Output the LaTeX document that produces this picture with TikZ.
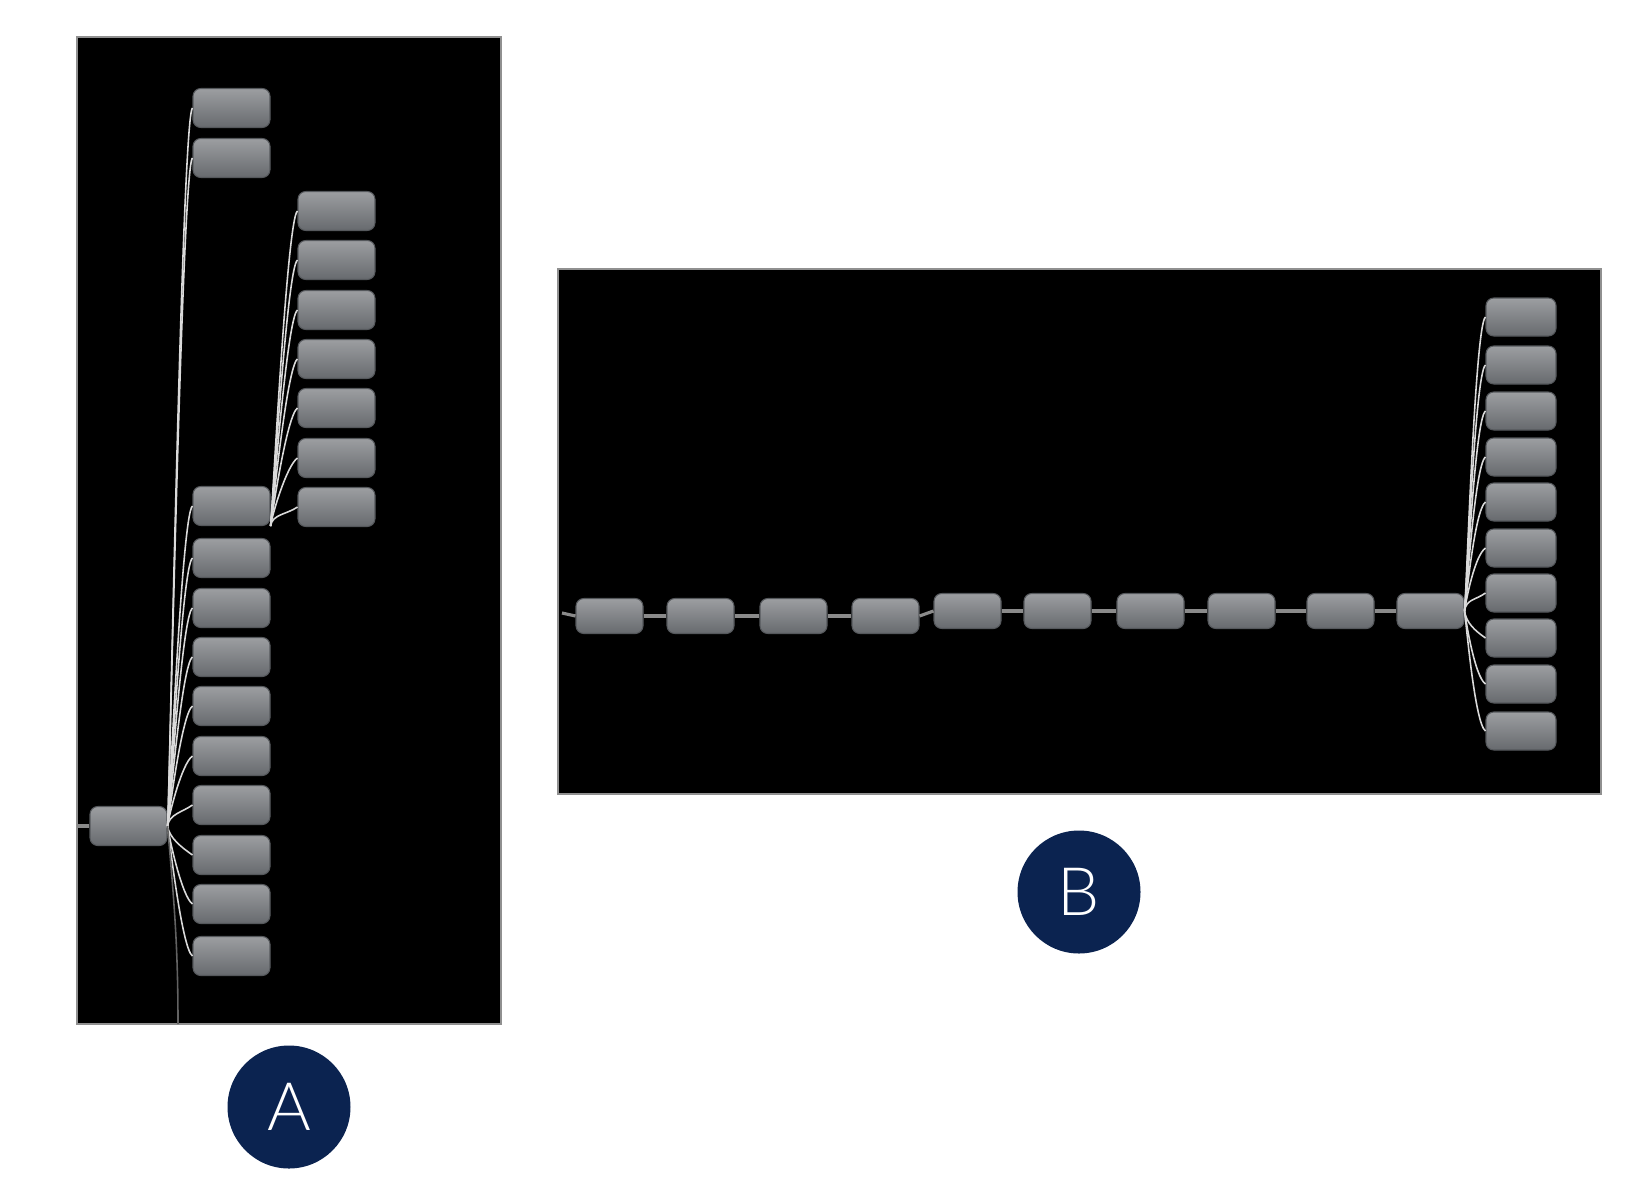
\documentclass[tikz,border=0pt]{standalone}
\usepackage{fontspec}
\setsansfont{Lato}
\newfontfamily\badgefont{Lato Light}
\definecolor{navy}{HTML}{0B2350}
\definecolor{nodetop}{HTML}{9C9EA1}
\definecolor{nodebot}{HTML}{676A6E}
\definecolor{nodeedge}{HTML}{55585C}
\definecolor{fanline}{HTML}{DADADA}
\definecolor{linkgray}{HTML}{8A8A8A}
\definecolor{frame}{HTML}{909090}

\begin{document}
\begin{tikzpicture}[font=\sffamily,
  box/.style={rectangle,rounded corners=2.2pt,top color=nodetop,
    bottom color=nodebot,draw=nodeedge,line width=0.3pt,inner sep=0pt},
  abox/.style={box,minimum width=0.77cm,minimum height=0.39cm},
  bbox/.style={box,minimum width=0.67cm,minimum height=0.35cm},
  rbox/.style={box,minimum width=0.70cm,minimum height=0.38cm},
  fan/.style={draw=fanline,line width=0.45pt},
  fanup/.style={out=82,in=215,out distance=0.12cm,in distance=0.13cm},
  fandown/.style={out=-82,in=145,out distance=0.12cm,in distance=0.13cm},
  link/.style={draw=linkgray,line width=0.9pt},
  badge/.style={circle,fill=navy,minimum size=1.23cm,inner sep=0pt,
    text=white,font=\badgefont\fontsize{19}{19}\selectfont}]
  \useasboundingbox (0,0) rectangle (16.4,-11.98);

  % Panel A: one root, a tall column of children, one nested fan.
  \fill[black,draw=frame,line width=0.4pt] (0.77,-0.37) rectangle (5.01,-10.24);
  \coordinate (ain) at (0.77,-8.26);
  \coordinate (abot) at (1.78,-10.24);
  \node[abox] (ra) at (1.285,-8.26) {};
  \foreach \y [count=\i] in {1.08,1.58,5.06,5.58,6.08,6.57,7.06,7.56,8.05,8.55,9.04,9.56}
    \node[abox] (a\i) at (2.315,-\y) {};
  \foreach \y [count=\i] in {2.11,2.60,3.10,3.59,4.08,4.58,5.07}
    \node[abox] (c\i) at (3.365,-\y) {};

  \draw[link] (ain) -- (ra.west);
  \foreach \i in {1,...,9}
    \draw[fan,fanup] (ra.east) to (a\i.west);
  \foreach \i in {10,11,12}
    \draw[fan,fandown] (ra.east) to (a\i.west);
  \draw[fan,draw=fanline!45!black] (ra.east) to[out=-85,in=90] (abot);
  \foreach \i in {1,...,7}
    \draw[fan,fanup] (a3.south east) to (c\i.west);

  % Panel B: a long chain that ends in one wide fan.
  \fill[black,draw=frame,line width=0.4pt] (5.58,-2.69) rectangle (16.01,-7.94);
  \coordinate (bin) at (5.62,-6.13);
  \foreach \x/\y [count=\i] in {6.095/6.16,7.005/6.16,7.935/6.16,8.855/6.16,
      9.675/6.11,10.575/6.11,11.505/6.11,12.415/6.11,13.405/6.11,14.305/6.11}
    \node[bbox] (b\i) at (\x,-\y) {};
  \foreach \y [count=\i] in {3.17,3.65,4.11,4.57,5.02,5.48,5.93,6.38,6.84,7.31}
    \node[rbox] (r\i) at (15.21,-\y) {};

  \draw[link] (bin) -- (b1.west);
  \foreach \i [count=\j from 2] in {1,...,9}
    \draw[link] (b\i.east) -- (b\j.west);
  \foreach \i in {1,...,7}
    \draw[fan,fanup] (b10.east) to (r\i.west);
  \foreach \i in {8,9,10}
    \draw[fan,fandown] (b10.east) to (r\i.west);

  % Panel badges
  \node[badge] (lblA) at (2.89,-11.07) {A};
  \node[badge] (lblB) at (10.79,-8.92) {B};
\end{tikzpicture}
\end{document}
